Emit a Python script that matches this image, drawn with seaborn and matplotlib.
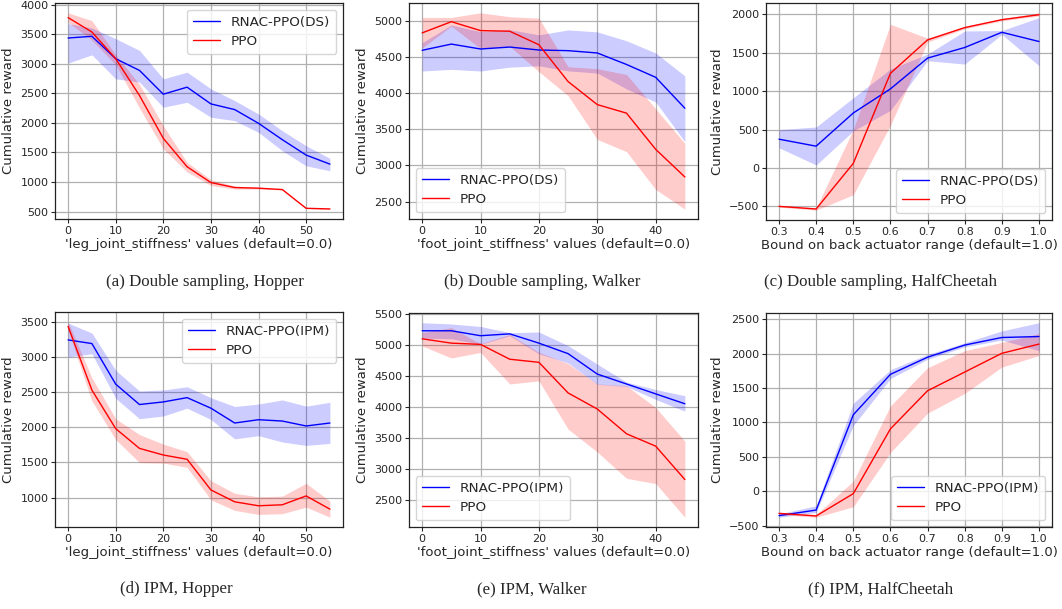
import numpy as np
import pandas as pd
import matplotlib
matplotlib.use("Agg")
import matplotlib.pyplot as plt
import seaborn as sns

# ---------------- data ----------------
x_stiff_leg = [0, 5, 10, 15, 20, 25, 30, 35, 40, 45, 50, 55]
x_stiff_foot = [0, 5, 10, 15, 20, 25, 30, 35, 40, 45]
x_bound = [0.3, 0.4, 0.5, 0.6, 0.7, 0.8, 0.9, 1.0]

# (a) Double sampling, Hopper
a_rnac = [3434, 3463, 3084, 2886, 2484, 2603, 2320, 2224, 1992, 1715, 1455, 1302]
a_rnac_lo = [3010, 3150, 2744, 2688, 2263, 2348, 2094, 2037, 1839, 1528, 1273, 1189]
a_rnac_hi = [3678, 3604, 3423, 3225, 2744, 2857, 2575, 2376, 2150, 1867, 1613, 1398]
a_ppo = [3779, 3536, 3084, 2462, 1738, 1257, 990, 906, 895, 872, 555, 544]
a_ppo_lo = [3700, 3400, 2980, 2250, 1560, 1170, 940, 880, 880, 865, 550, 540]
a_ppo_hi = [3860, 3728, 3150, 2650, 1950, 1330, 1040, 930, 910, 880, 560, 550]

# (b) Double sampling, Walker
b_rnac = [4595, 4681, 4613, 4640, 4599, 4590, 4558, 4399, 4221, 3793]
b_rnac_lo = [4308, 4331, 4308, 4362, 4380, 4310, 4280, 4060, 3880, 3329]
b_rnac_hi = [4700, 4945, 4854, 4880, 4809, 4877, 4850, 4727, 4558, 4240]
b_ppo = [4836, 4991, 4868, 4859, 4672, 4162, 3843, 3725, 3224, 2841]
b_ppo_lo = [4627, 4930, 4620, 4650, 4299, 3966, 3361, 3192, 2668, 2395]
b_ppo_hi = [5050, 5050, 5114, 5060, 5040, 4367, 4340, 4260, 3784, 3306]

# (c) Double sampling, HalfCheetah
c_rnac = [375, 284, 716, 1030, 1431, 1569, 1767, 1647]
c_rnac_lo = [263, 39, 483, 750, 1397, 1353, 1740, 1332]
c_rnac_hi = [500, 534, 914, 1289, 1483, 1784, 1790, 1957]
c_ppo = [-500, -534, 60, 1233, 1668, 1828, 1931, 1996]
c_ppo_lo = [-510, -549, -349, 556, 1640, 1813, 1916, 1980]
c_ppo_hi = [-490, -519, 500, 1871, 1690, 1843, 1946, 2020]

# (d) IPM, Hopper
d_rnac = [3242, 3190, 2613, 2323, 2360, 2421, 2271, 2060, 2107, 2088, 2018, 2060]
d_rnac_lo = [2998, 3045, 2412, 2121, 2160, 2271, 2110, 1834, 1880, 1790, 1741, 1770]
d_rnac_hi = [3481, 3340, 2810, 2515, 2530, 2576, 2420, 2295, 2330, 2388, 2300, 2355]
d_ppo = [3434, 2529, 1980, 1699, 1605, 1544, 1108, 939, 883, 897, 1023, 835]
d_ppo_lo = [3380, 2374, 1825, 1497, 1490, 1430, 967, 817, 760, 770, 864, 720]
d_ppo_hi = [3500, 2703, 2121, 1896, 1760, 1652, 1239, 1061, 1010, 1020, 1202, 950]

# (e) IPM, Walker
e_rnac = [5230, 5230, 5150, 5180, 5030, 4860, 4530, 4370, 4210, 4050]
e_rnac_lo = [5110, 5100, 5010, 5150, 4857, 4710, 4364, 4330, 4120, 3930]
e_rnac_hi = [5360, 5340, 5300, 5200, 5210, 4990, 4690, 4400, 4280, 4180]
e_ppo = [5100, 5030, 5010, 4770, 4720, 4225, 3965, 3565, 3365, 2825]
e_ppo_lo = [4985, 4790, 4880, 4370, 4420, 3640, 3270, 2845, 2760, 2215]
e_ppo_hi = [5200, 5280, 5020, 5170, 4880, 4700, 4370, 4340, 3990, 3445]

# (f) IPM, HalfCheetah
f_rnac = [-356, -275, 1112, 1701, 1950, 2127, 2237, 2251]
f_rnac_lo = [-380, -310, 955, 1640, 1920, 2100, 2200, 2045]
f_rnac_hi = [-330, -213, 1280, 1768, 1990, 2160, 2333, 2452]
f_ppo = [-323, -361, -36, 907, 1462, 1734, 2007, 2141]
f_ppo_lo = [-340, -380, -227, 562, 1136, 1423, 1806, 1974]
f_ppo_hi = [-310, -340, 146, 1242, 1797, 2045, 2165, 2294]

xlabel_leg = "'leg_joint_stiffness' values (default=0.0)"
xlabel_foot = "'foot_joint_stiffness' values (default=0.0)"
xlabel_bound = "Bound on back actuator range (default=1.0)"
ylabel = "Cumulative reward"
captions = ["(a) Double sampling, Hopper", "(b) Double sampling, Walker",
            "(c) Double sampling, HalfCheetah", "(d) IPM, Hopper",
            "(e) IPM, Walker", "(f) IPM, HalfCheetah"]

# ---------------- style ----------------
sns.set_style("ticks")
plt.rcParams['font.family'] = ['DejaVu Sans']
plt.rcParams['axes.linewidth'] = 0.9

W, H = 1062, 609
fig = plt.figure(figsize=(W / 100, H / 100), dpi=100)

def rect(l, r, t, b):
    return [l / W, 1 - b / H, (r - l) / W, (b - t) / H]

rects = [rect(55, 343, 3, 219), rect(409, 698, 3, 219), rect(766, 1052, 3, 220),
         rect(55, 343, 312, 527), rect(409, 698, 313, 527), rect(766, 1052, 313, 527)]

panels = [
    (x_stiff_leg, a_rnac, a_rnac_lo, a_rnac_hi, a_ppo, a_ppo_lo, a_ppo_hi, "RNAC-PPO(DS)", xlabel_leg, "upper right"),
    (x_stiff_foot, b_rnac, b_rnac_lo, b_rnac_hi, b_ppo, b_ppo_lo, b_ppo_hi, "RNAC-PPO(DS)", xlabel_foot, "lower left"),
    (x_bound, c_rnac, c_rnac_lo, c_rnac_hi, c_ppo, c_ppo_lo, c_ppo_hi, "RNAC-PPO(DS)", xlabel_bound, "lower right"),
    (x_stiff_leg, d_rnac, d_rnac_lo, d_rnac_hi, d_ppo, d_ppo_lo, d_ppo_hi, "RNAC-PPO(IPM)", xlabel_leg, "upper right"),
    (x_stiff_foot, e_rnac, e_rnac_lo, e_rnac_hi, e_ppo, e_ppo_lo, e_ppo_hi, "RNAC-PPO(IPM)", xlabel_foot, "lower left"),
    (x_bound, f_rnac, f_rnac_lo, f_rnac_hi, f_ppo, f_ppo_lo, f_ppo_hi, "RNAC-PPO(IPM)", xlabel_bound, "lower right"),
]

for rc, (x, rn, rnlo, rnhi, pp, pplo, pphi, name, xl, loc) in zip(rects, panels):
    ax = fig.add_axes(rc)
    df = pd.DataFrame({"x": list(x) * 2,
                       "y": list(rn) + list(pp),
                       "method": [name] * len(x) + ["PPO"] * len(x)})
    sns.lineplot(data=df, x="x", y="y", hue="method",
                 palette={name: "blue", "PPO": "red"}, linewidth=1.0, ax=ax)
    ax.fill_between(x, rnlo, rnhi, color="blue", alpha=0.2, linewidth=0)
    ax.fill_between(x, pplo, pphi, color="red", alpha=0.2, linewidth=0)
    ax.grid(True, color="#b0b0b0", linewidth=0.9)
    ax.set_axisbelow(True)
    ax.tick_params(labelsize=8.0, length=3.0, width=0.8, pad=1.8)
    ax.set_xlabel(xl, fontsize=9.5, labelpad=1.5)
    ax.set_ylabel(ylabel, fontsize=9.5, labelpad=3.5)
    if x is x_bound:
        ax.set_xticks(x_bound)
    for s in ax.spines.values():
        s.set_color("#222222")
    leg = ax.legend(loc=loc, fontsize=9.7, frameon=True, handlelength=2.0,
                    borderpad=0.45, labelspacing=0.45)
    leg.get_frame().set_edgecolor("#cccccc")
    leg.get_frame().set_alpha(0.8)

cap_pos = [(205, 282), (542, 282), (880, 282), (176, 589), (532, 589), (881, 589)]
for (cx, cy), t in zip(cap_pos, captions):
    fig.text(cx / W, 1 - cy / H, t, ha="center", va="center",
             fontsize=12.2, family="Liberation Serif")

fig.savefig("out.png", dpi=100)
